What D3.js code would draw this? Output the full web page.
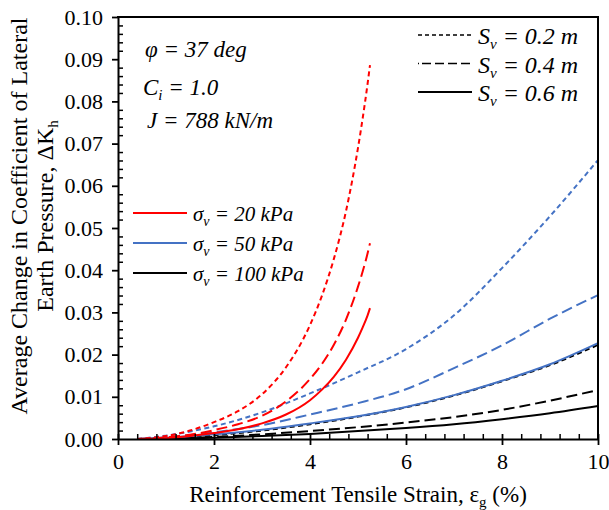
<!DOCTYPE html>
<html><head><meta charset="utf-8">
<script src="https://cdn.jsdelivr.net/npm/d3@7"></script>
<style>
html,body{margin:0;padding:0;background:#fff;}
svg{display:block;}
</style></head><body>
<svg id="chart" width="609" height="510" font-family="Liberation Serif"></svg>
<script>
// Reinforcement strain (%) sampled for the σv = 20 kPa runs (they stop near 5.25 %)
const strain20 = [0.4, 1, 1.5, 2, 2.5, 3, 3.5, 4, 4.25, 4.5, 4.75, 5, 5.1, 5.2, 5.25];
const dk20_s02 = [0, 0.0007, 0.0020, 0.0040, 0.0066, 0.0106, 0.0170, 0.0270, 0.0340, 0.0428, 0.0540, 0.0690, 0.0762, 0.0842, 0.0886];
const dk20_s04 = [0, 0.0004, 0.0010, 0.0021, 0.0035, 0.0055, 0.0089, 0.0142, 0.0178, 0.0224, 0.0283, 0.0361, 0.0398, 0.0440, 0.0464];
const dk20_s06 = [0, 0.0002, 0.0007, 0.0014, 0.0023, 0.0037, 0.0058, 0.0092, 0.0117, 0.0148, 0.0188, 0.0240, 0.0265, 0.0293, 0.0310];

// σv = 50 kPa and 100 kPa runs go out to 10 % strain
const strainLong = [0.4, 1, 2, 3, 4, 5, 6, 7, 8, 9, 10];
const dk50_s02 = [0, 0.0008, 0.0030, 0.0063, 0.0108, 0.0158, 0.0213, 0.0293, 0.0405, 0.0528, 0.0661];
const dk50_s04 = [0, 0.0004, 0.0016, 0.0033, 0.0058, 0.0085, 0.0118, 0.0168, 0.0222, 0.0285, 0.0341];
const dk50_s06 = [0, 0.0003, 0.0011, 0.0022, 0.0037, 0.0054, 0.0076, 0.0104, 0.0138, 0.0177, 0.0227];
const dk100_s02 = [0, 0.0002, 0.0009, 0.0020, 0.0035, 0.0053, 0.0075, 0.0103, 0.0137, 0.0175, 0.0223];
const dk100_s04 = [0, 0.0001, 0.0005, 0.0011, 0.0019, 0.0028, 0.0039, 0.0052, 0.0069, 0.0091, 0.0116];
const dk100_s06 = [0, 0.0001, 0.0003, 0.0007, 0.0012, 0.0019, 0.0026, 0.0035, 0.0047, 0.0061, 0.0078];

const xTicks = [0, 2, 4, 6, 8, 10];
const yTicks = [0, 0.01, 0.02, 0.03, 0.04, 0.05, 0.06, 0.07, 0.08, 0.09, 0.10];

const spacingLabels = ["0.2", "0.4", "0.6"];
const stressLabels = ["20", "50", "100"];

const RED = "#ff0000", BLUE = "#4472c4", BLACK = "#000000";
const DASH = { "0.2": "5,3.5", "0.4": "11,5", "0.6": null };
const FONT = "Liberation Serif";

const svg = d3.select("#chart");
const M = { left: 118, right: 598, top: 17, bottom: 439 };

const x = d3.scaleLinear().domain([0, 10]).range([M.left, M.right]);
const y = d3.scaleLinear().domain([0, 0.10]).range([M.bottom, M.top]);

// series drawn back to front: 100 kPa, 50 kPa, 20 kPa
const series = [
  { s: strainLong, v: dk100_s06, c: BLACK, sv: "0.6" },
  { s: strainLong, v: dk100_s04, c: BLACK, sv: "0.4" },
  { s: strainLong, v: dk100_s02, c: BLACK, sv: "0.2" },
  { s: strainLong, v: dk50_s06, c: BLUE, sv: "0.6" },
  { s: strainLong, v: dk50_s04, c: BLUE, sv: "0.4" },
  { s: strainLong, v: dk50_s02, c: BLUE, sv: "0.2" },
  { s: strain20, v: dk20_s06, c: RED, sv: "0.6" },
  { s: strain20, v: dk20_s04, c: RED, sv: "0.4" },
  { s: strain20, v: dk20_s02, c: RED, sv: "0.2" }
];

const line = d3.line()
  .x(d => x(d[0]))
  .y(d => y(d[1]))
  .curve(d3.curveMonotoneX);

svg.append("g").selectAll("path")
  .data(series)
  .join("path")
  .attr("d", d => line(d.s.map((e, i) => [e, d.v[i]])))
  .attr("fill", "none")
  .attr("stroke", d => d.c)
  .attr("stroke-width", 2)
  .attr("stroke-dasharray", d => DASH[d.sv]);

// ---- axes ----
const axisFont = g => {
  g.attr("font-family", FONT).attr("font-size", 22);
  g.selectAll("text").attr("font-family", FONT).attr("font-size", 22).attr("fill", "#000");
};

// bottom: major ticks crossing the axis, minor ticks pointing in
const xMinor = d3.range(0, 10.001, 0.4).filter(v => Math.abs(v / 2 - Math.round(v / 2)) > 1e-6);
svg.append("g")
  .attr("transform", `translate(0,${M.bottom})`)
  .call(d3.axisTop(x).tickValues(xMinor).tickSize(5).tickFormat(""))
  .call(g => g.select(".domain").remove())
  .call(g => g.selectAll("line").attr("stroke-width", 1.5));

const gx = svg.append("g")
  .attr("transform", `translate(0,${M.bottom})`)
  .call(d3.axisBottom(x).tickValues(xTicks).tickSizeInner(6).tickSizeOuter(0).tickPadding(8).tickFormat(d3.format("d")))
  .call(axisFont);
gx.select(".domain").attr("stroke-width", 2);
gx.selectAll(".tick line").attr("y1", -5).attr("stroke-width", 1.8);

// left: major ticks outward, minor ticks inward
const yMinor = d3.range(0, 0.1001, 0.002).filter(v => Math.abs(v * 100 - Math.round(v * 100)) > 1e-6);
svg.append("g")
  .attr("transform", `translate(${M.left},0)`)
  .call(d3.axisRight(y).tickValues(yMinor).tickSize(5).tickFormat(""))
  .call(g => g.select(".domain").remove())
  .call(g => g.selectAll("line").attr("stroke-width", 1.5));

const gy = svg.append("g")
  .attr("transform", `translate(${M.left},0)`)
  .call(d3.axisLeft(y).tickValues(yTicks).tickSizeInner(6).tickSizeOuter(0).tickPadding(9).tickFormat(d3.format(".2f")))
  .call(axisFont);
gy.select(".domain").attr("stroke-width", 2);
gy.selectAll(".tick line").attr("stroke-width", 1.8);

// top and right frame
svg.append("line").attr("x1", x(0) - 1).attr("x2", x(10) + 1).attr("y1", y(0.10)).attr("y2", y(0.10))
  .attr("stroke", "#000").attr("stroke-width", 2);
svg.append("line").attr("x1", x(10)).attr("x2", x(10)).attr("y1", y(0.10)).attr("y2", y(0))
  .attr("stroke", "#000").attr("stroke-width", 2);

// ---- axis titles ----
const xt = svg.append("text")
  .attr("x", 358).attr("y", 502)
  .attr("text-anchor", "middle").attr("font-family", FONT).attr("font-size", 23);
xt.append("tspan").text("Reinforcement Tensile Strain, ε");
xt.append("tspan").attr("font-size", 15).attr("dy", 5).text("g");
xt.append("tspan").attr("dy", -5).text(" (%)");

const yt = svg.append("g").attr("transform", "translate(0,216) rotate(-90)")
  .attr("font-family", FONT).attr("font-size", 24);
yt.append("text").attr("x", 0).attr("y", 27).attr("text-anchor", "middle").attr("font-family", FONT)
  .text("Average Change in Coefficient of Lateral");
const yt2 = yt.append("text").attr("x", 0).attr("y", 53).attr("text-anchor", "middle").attr("font-family", FONT);
yt2.append("tspan").text("Earth Pressure, ΔK");
yt2.append("tspan").attr("font-size", 15).attr("dy", 5).text("h");

// ---- parameter notes ----
const notes = svg.append("g").attr("font-style", "italic").attr("font-size", 23).attr("font-family", FONT);
notes.append("text").attr("x", 145).attr("y", 57).attr("font-family", FONT).text("φ = 37 deg");
const ci = notes.append("text").attr("x", 143).attr("y", 95).attr("font-family", FONT);
ci.append("tspan").text("C");
ci.append("tspan").attr("font-size", 15).attr("dy", 5).text("i");
ci.append("tspan").attr("dy", -5).text(" = 1.0");
notes.append("text").attr("x", 147).attr("y", 128).attr("font-family", FONT).text("J = 788 kN/m");

// ---- legend: reinforcement spacing (line style) ----
const legS = svg.append("g").attr("font-family", FONT);
spacingLabels.forEach((lab, i) => {
  const ly = 35 + i * 28.5;
  legS.append("line").attr("x1", 418).attr("x2", 472).attr("y1", ly).attr("y2", ly)
    .attr("stroke", BLACK).attr("stroke-width", i === 2 ? 2 : 1.5)
    .attr("stroke-dasharray", i === 0 ? "4,3" : (i === 1 ? "1,3,9,4,9,4,9,4,9,4" : null));
  const t = legS.append("text").attr("x", 478).attr("y", ly + 9)
    .attr("font-family", FONT).attr("font-size", 24).attr("font-style", "italic");
  t.append("tspan").text("S");
  t.append("tspan").attr("font-size", 15).attr("dy", 5).text("v");
  t.append("tspan").attr("dy", -5).text(` = ${lab} m`);
});

// ---- legend: vertical stress (colour) ----
const legC = svg.append("g").attr("font-family", FONT);
[RED, BLUE, BLACK].forEach((col, i) => {
  const ly = 213 + i * 30;
  legC.append("line").attr("x1", 133).attr("x2", 187).attr("y1", ly).attr("y2", ly)
    .attr("stroke", col).attr("stroke-width", 2);
  const t = legC.append("text").attr("x", 193).attr("y", ly + 8)
    .attr("font-family", FONT).attr("font-size", 21).attr("font-style", "italic");
  t.append("tspan").text("σ");
  t.append("tspan").attr("font-size", 14).attr("dy", 5).text("v");
  t.append("tspan").attr("dy", -5).text(` = ${stressLabels[i]} kPa`);
});
</script>
</body></html>
